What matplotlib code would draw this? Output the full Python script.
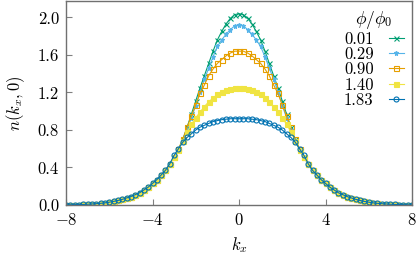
import numpy as np
import matplotlib
matplotlib.use('Agg')
import matplotlib.pyplot as plt

# Dữ liệu: n(k_x, 0) với k_x = 0, 0.2, ..., 8 (đường cong đối xứng qua k_x = 0)
kx_half = [round(0.2 * i, 1) for i in range(41)]

# phần đuôi chung cho mọi đường, k_x = 3.2 ... 8.0
tail = [0.44, 0.37, 0.32, 0.27, 0.23, 0.19, 0.16, 0.13, 0.11, 0.09,
        0.075, 0.06, 0.048, 0.038, 0.03, 0.023, 0.018, 0.014, 0.011, 0.008,
        0.006, 0.005, 0.004, 0.003, 0.002]

# k_x = 0 ... 3.0
n_001 = [2.04, 2.03, 1.99, 1.93, 1.85, 1.76, 1.64, 1.51, 1.38, 1.25,
         1.11, 0.97, 0.83, 0.70, 0.59, 0.51] + tail
n_029 = [1.92, 1.91, 1.87, 1.82, 1.76, 1.69, 1.58, 1.46, 1.34, 1.21,
         1.06, 0.93, 0.80, 0.68, 0.59, 0.51] + tail
n_090 = [1.64, 1.64, 1.62, 1.59, 1.55, 1.51, 1.45, 1.38, 1.28, 1.19,
         1.07, 0.95, 0.83, 0.70, 0.60, 0.51] + tail
n_140 = [1.25, 1.25, 1.24, 1.23, 1.21, 1.18, 1.14, 1.10, 1.05, 0.99,
         0.93, 0.86, 0.78, 0.68, 0.59, 0.51] + tail
n_183 = [0.92, 0.92, 0.92, 0.915, 0.91, 0.90, 0.89, 0.87, 0.85, 0.83,
         0.80, 0.76, 0.72, 0.67, 0.60, 0.53] + tail

labels = ['0.01', '0.29', '0.90', '1.40', '1.83']


def full(arr):
    # ghép nửa trái (đảo ngược) và nửa phải
    arr = np.array(arr)
    return np.concatenate([arr[:0:-1], arr])


kx = np.concatenate([-np.array(kx_half[:0:-1]), np.array(kx_half)])

plt.rcParams['font.family'] = 'serif'
plt.rcParams['font.serif'] = ['cmr10']
plt.rcParams['mathtext.fontset'] = 'cm'
plt.rcParams['axes.unicode_minus'] = False

fig = plt.figure(figsize=(4.16, 2.56), dpi=100)
ax = fig.add_axes([66 / 416, 1 - 205 / 256, (412 - 66) / 416, (205 - 1) / 256])

styles = [
    dict(color='#009e73', marker='x', mfc='#009e73'),
    dict(color='#56b4e9', marker='*', mfc='#56b4e9'),
    dict(color='#e69f00', marker='s', mfc='none'),
    dict(color='#f0e442', marker='s', mfc='#f0e442'),
    dict(color='#0072b2', marker='o', mfc='none'),
]
series = [n_001, n_029, n_090, n_140, n_183]

for y, lab, st in zip(series, labels, styles):
    ax.plot(kx, full(y), lw=0.8, ms=3.6, mew=0.8, label=lab, **st)

ax.set_xlim(-8, 8)
ax.set_ylim(0, 2.175)
ax.set_xticks([-8, -4, 0, 4, 8])
ax.set_xticklabels(['$-8$', '$-4$', '$0$', '$4$', '$8$'])
ax.set_yticks([0, 0.4, 0.8, 1.2, 1.6, 2.0])
ax.set_yticklabels(['0.0', '0.4', '0.8', '1.2', '1.6', '2.0'])
ax.tick_params(direction='in', length=4, color='#808080', labelsize=12, pad=5)
for sp in ax.spines.values():
    sp.set_color('#707070')
    sp.set_linewidth(1.0)

ax.set_xlabel('$k_x$', fontsize=12, labelpad=5)
ax.set_ylabel('$n(k_x, 0)$', fontsize=12, labelpad=8)

leg = ax.legend(title=r'$\phi/\phi_0$', loc='upper right', frameon=False,
                markerfirst=False, fontsize=12, title_fontsize=12.5,
                handlelength=0.9, handletextpad=0.9, labelspacing=0.0,
                borderaxespad=0.2, borderpad=0.3)

plt.savefig('out.png', dpi=100)
